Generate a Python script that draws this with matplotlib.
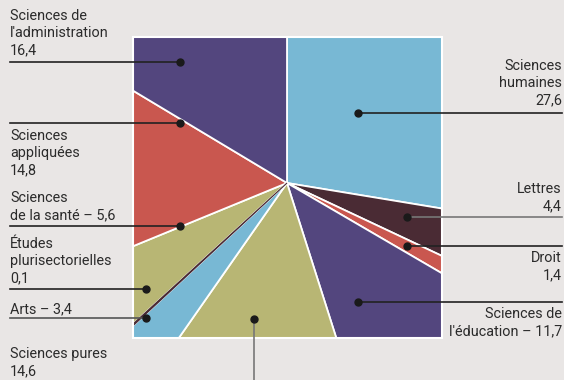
import matplotlib.pyplot as plt
from matplotlib.patches import Rectangle

# parts en %, dans le sens horaire depuis midi
secteurs = ['Sciences humaines', 'Lettres', 'Droit', "Sciences de l'éducation",
            'Sciences pures', 'Arts', 'Études plurisectorielles',
            'Sciences de la santé', 'Sciences appliquées',
            "Sciences de l'administration"]
parts = [27.6, 4.4, 1.4, 11.7, 14.6, 3.4, 0.1, 5.6, 14.8, 16.4]
couleurs = ['#78b8d4', '#4a2b34', '#c9574f', '#53467e', '#b8b674',
            '#78b8d4', '#4a2b34', '#b8b674', '#c9574f', '#53467e']

W, H = 564, 380
FOND = '#e9e6e5'
TEXTE = '#2b2b2b'
police = ['Roboto', 'DejaVu Sans']

# carré du graphique (pixels, depuis le haut)
gx0, gx1, gy0, gy1 = 133, 442, 37, 338
cx, cy = 287, 183


def Y(y):
    # coordonnées en pixels depuis le haut
    return H - y


fig = plt.figure(figsize=(W / 100, H / 100), dpi=100, facecolor=FOND)

# axes du camembert, limités au carré : les secteurs sont coupés par le cadre
axp = fig.add_axes([gx0 / W, Y(gy1) / H, (gx1 - gx0) / W, (gy1 - gy0) / H])
wedges, _ = axp.pie(parts, colors=couleurs, startangle=90, counterclock=False,
                    center=(cx, Y(cy)), radius=400,
                    wedgeprops=dict(edgecolor='white', linewidth=1.3))
for w in wedges:
    w.set_clip_on(True)
    w.set_clip_path(axp.patch)
# le secteur de 0,1 % n'est qu'un trait
wedges[6].set_edgecolor(couleurs[6])
wedges[6].set_linewidth(0.8)
wedges[6].set_zorder(3)
axp.set_xlim(gx0, gx1)
axp.set_ylim(Y(gy1), Y(gy0))
axp.set_aspect('auto')
axp.axis('off')

# axes de la figure entière pour le cadre, les repères et les textes
ax = fig.add_axes([0, 0, 1, 1], zorder=5)
ax.patch.set_alpha(0)
ax.set_xlim(0, W)
ax.set_ylim(0, H)
ax.axis('off')
ax.add_patch(Rectangle((gx0, Y(gy1)), gx1 - gx0, gy1 - gy0, fill=False,
                       edgecolor='white', linewidth=1.5, zorder=4))


def repere(x, y, x0, x1=None, couleur='#222222', vertical=False):
    if vertical:
        ax.plot([x, x], [Y(y), Y(x0)], color=couleur, lw=1.2, zorder=5)
    else:
        ax.plot([x0, x1], [Y(y), Y(y)], color=couleur, lw=1.2, zorder=5)
    ax.plot(x, Y(y), 'o', color='#1a1a1a', ms=5, zorder=6)


def etiquette(x, y, s, ha='left'):
    ax.text(x, Y(y), s, ha=ha, va='top', fontsize=10.4, color=TEXTE,
            family=police, linespacing=1.3, zorder=6)


# côté gauche
repere(180, 62, 10, 180)
etiquette(10, 9, "Sciences de\nl'administration\n16,4")
repere(180, 123, 10, 180)
etiquette(10, 129, "Sciences\nappliquées\n14,8")
repere(180, 226, 10, 180)
etiquette(10, 191, "Sciences\nde la santé – 5,6")
repere(146, 289, 10, 146)
etiquette(10, 237, "Études\nplurisectorielles\n0,1")
repere(146, 318, 10, 146, couleur='#555555')
etiquette(10, 302, "Arts – 3,4")
repere(254, 319, 380, couleur='#777777', vertical=True)
etiquette(10, 347, "Sciences pures\n14,6")

# côté droit
repere(358, 113, 358, 562)
etiquette(562, 59, "Sciences\nhumaines\n27,6", ha='right')
repere(407, 217, 407, 562, couleur='#777777')
etiquette(562, 182, "Lettres\n4,4", ha='right')
repere(407, 246, 407, 562)
etiquette(562, 251, "Droit\n1,4", ha='right')
repere(358, 302, 358, 562)
etiquette(562, 307, "Sciences de\nl'éducation – 11,7", ha='right')

fig.savefig('out.png', dpi=100, facecolor=FOND)
